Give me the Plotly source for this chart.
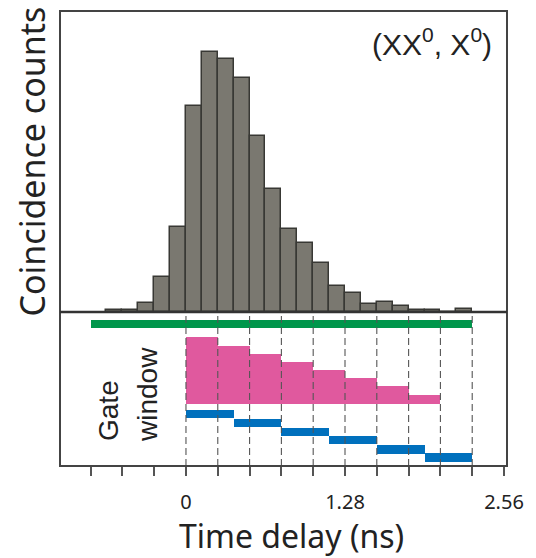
import plotly.graph_objects as go

# ---------------- data ----------------
# histogram (coincidence counts, arbitrary units), bin width 0.128 ns
bin_left_edges = [-0.640, -0.512, -0.384, -0.256, -0.128, 0.000, 0.128, 0.256,
                  0.384, 0.512, 0.640, 0.768, 0.896, 1.024, 1.152, 1.280,
                  1.408, 1.536, 1.664, 1.792, 1.920, 2.048, 2.176]
counts = [2, 2, 9, 35, 85, 206, 260, 253,
          234, 176, 123, 83, 69, 49, 26, 19,
          8, 10, 6, 2, 2, 0, 3]
bin_width = 0.128

# full gate (green)
full_gate = [-0.768, 2.304]
full_gate_level = 142

# pink gate windows (0.256 ns wide)
pink_left = [0.000, 0.256, 0.512, 0.768, 1.024, 1.280, 1.536, 1.792]
pink_heights = [67.3, 58.3, 50.0, 42.0, 34.0, 26.0, 18.0, 9.0]
pink_base = 62
pink_width = 0.256

# blue gate windows (0.384 ns wide)
blue_left = [0.000, 0.384, 0.768, 1.152, 1.536, 1.920]
blue_levels = [51.8, 42.8, 33.8, 25.8, 16.5, 8.5]
blue_width = 0.384

# dashed guide positions
guide_x = [0.000, 0.256, 0.512, 0.768, 1.024, 1.280, 1.536, 1.792, 2.048, 2.304]

# axis ticks
tick_values = [-0.768, -0.512, -0.256, 0.000, 0.256, 0.512, 0.768, 1.024,
               1.280, 1.536, 1.792, 2.048, 2.304, 2.560]
tick_text = ["", "", "", "0", "", "", "", "", "1.28", "", "", "", "", "2.56"]

# ---------------- figure ----------------
W, H = 536, 558
ML, MR, MT, MB = 60, 29, 11, 92
split = (466 - 312) / (466 - 11)

fig = go.Figure()

# histogram
fig.add_trace(go.Bar(
    x=[e + bin_width / 2 for e in bin_left_edges], y=counts, width=bin_width,
    marker=dict(color="#7a7870", line=dict(color="#383834", width=1.5)),
    xaxis="x", yaxis="y", hoverinfo="skip", showlegend=False))

# dashed guides in lower panel
gx, gy = [], []
for v in guide_x:
    gx += [v, v, None]
    gy += [0, 154, None]
fig.add_trace(go.Scatter(x=gx, y=gy, mode="lines",
                         line=dict(color="#555555", width=1.1, dash="7px,4px"),
                         xaxis="x", yaxis="y2", hoverinfo="skip", showlegend=False))

# green full window
fig.add_trace(go.Bar(
    x=[(full_gate[0] + full_gate[1]) / 2], y=[8], base=[full_gate_level - 4],
    width=[full_gate[1] - full_gate[0]],
    marker=dict(color="#00964b", line=dict(width=0)),
    xaxis="x", yaxis="y2", hoverinfo="skip", showlegend=False))

# pink windows
fig.add_trace(go.Bar(
    x=[l + pink_width / 2 for l in pink_left], y=pink_heights,
    base=[pink_base] * len(pink_left), width=pink_width,
    marker=dict(color="#e0599e", line=dict(width=0)),
    xaxis="x", yaxis="y2", hoverinfo="skip", showlegend=False))

# blue windows
fig.add_trace(go.Bar(
    x=[l + blue_width / 2 for l in blue_left], y=[8.3] * len(blue_left),
    base=[v - 4.15 for v in blue_levels], width=blue_width,
    marker=dict(color="#0070bd", line=dict(width=0)),
    xaxis="x", yaxis="y2", hoverinfo="skip", showlegend=False))

fig.update_layout(
    width=W, height=H,
    margin=dict(l=ML, r=MR, t=MT, b=MB),
    paper_bgcolor="white", plot_bgcolor="white",
    barmode="overlay", bargap=0,
    xaxis=dict(domain=[0, 1], anchor="y2", range=[-1.014, 2.584],
               showgrid=False, zeroline=False, showline=False,
               tickmode="array", tickvals=tick_values, ticktext=tick_text,
               ticks="outside", ticklen=9, tickwidth=1.5, tickcolor="#555555",
               tickfont=dict(family="Noto Sans", size=20, color="#222222"),
               ticklabelstandoff=9),
    yaxis=dict(domain=[split, 1], anchor="x", range=[0, 301], visible=False),
    yaxis2=dict(domain=[0, split], anchor="x", range=[0, 154], visible=False),
    shapes=[
        dict(type="rect", xref="paper", yref="paper", x0=0, x1=1, y0=0, y1=1,
             line=dict(color="#444444", width=2), layer="above"),
        dict(type="line", xref="paper", yref="paper", x0=0, x1=1, y0=split, y1=split,
             line=dict(color="#333333", width=2.5), layer="above"),
    ],
    annotations=[
        dict(text="Coincidence counts", xref="paper", yref="paper",
             x=(31 - ML) / 447, y=(466 - 161.5) / 455, xanchor="center", yanchor="middle",
             textangle=-90, showarrow=False,
             font=dict(family="Noto Sans", size=34, color="#222222")),
        dict(text="Time delay (ns)", xref="paper", yref="paper",
             x=(291 - ML) / 447, y=(466 - 535) / 455, xanchor="center", yanchor="middle",
             showarrow=False, borderpad=0,
             font=dict(family="Noto Sans", size=32, color="#222222")),
        dict(text="(XX<sup>0</sup>, X<sup>0</sup>)", xref="paper", yref="paper",
             x=(494 - ML) / 447, y=(466 - 42) / 455, xanchor="right", yanchor="middle",
             showarrow=False, font=dict(family="Liberation Sans", size=30, color="#222222")),
        dict(text="Gate", xref="paper", yref="paper",
             x=(108 - ML) / 447, y=(466 - 411) / 455, xanchor="center", yanchor="middle",
             textangle=-90, showarrow=False,
             font=dict(family="Liberation Sans", size=28, color="#222222")),
        dict(text="window", xref="paper", yref="paper",
             x=(147 - ML) / 447, y=(466 - 395) / 455, xanchor="center", yanchor="middle",
             textangle=-90, showarrow=False,
             font=dict(family="Liberation Sans", size=28, color="#222222")),
    ],
)

fig.write_html("out.html", config={"displayModeBar": False},
               post_script="document.body.style.margin='0';document.body.style.overflow='hidden';")
